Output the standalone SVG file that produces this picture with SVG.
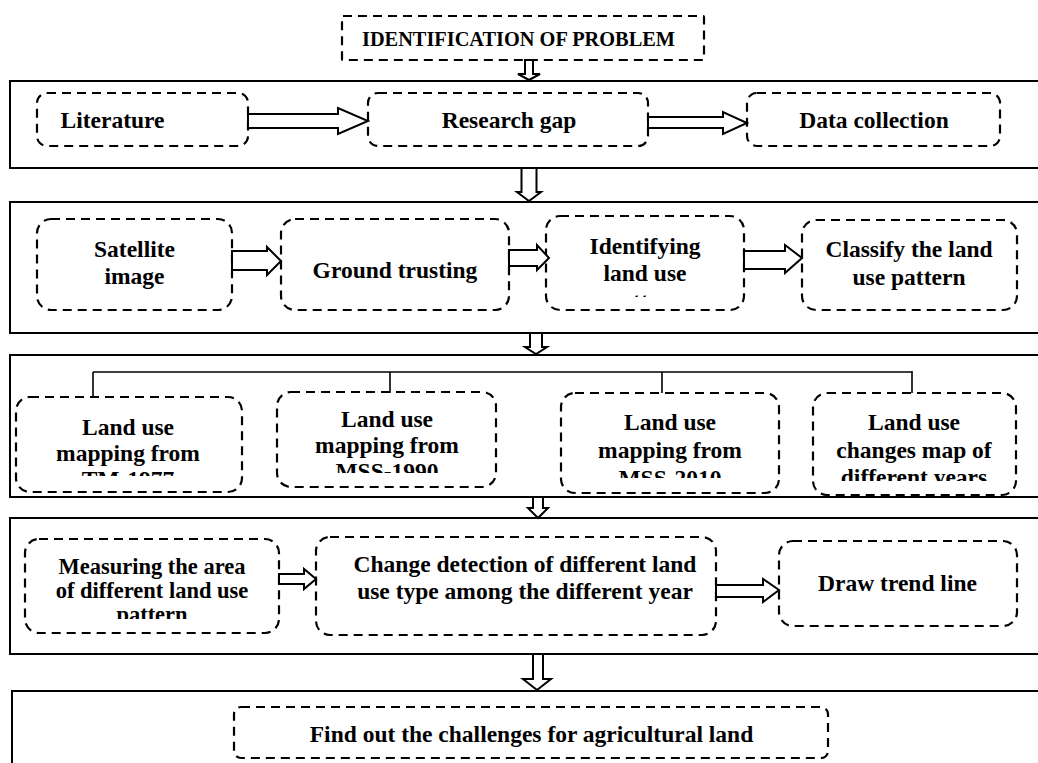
<svg xmlns="http://www.w3.org/2000/svg" width="1038" height="763" viewBox="0 0 1038 763">
<style>
.frame{fill:none;stroke:#000;stroke-width:2}
.db{fill:none;stroke:#000;stroke-width:2.2;stroke-dasharray:9 6}
.t{font-family:"Liberation Serif","Times New Roman",serif;font-weight:bold;font-size:23.5px;fill:#000;text-anchor:middle}
.ar{fill:#fff;stroke:#000;stroke-width:2;stroke-linejoin:miter}
.br{fill:none;stroke:#000;stroke-width:1.6}
</style>
<defs>
<clipPath id="c_id2"><rect x="546" y="216" width="198" height="81"/></clipPath>
<clipPath id="c_tm"><rect x="16" y="397" width="226" height="79"/></clipPath>
<clipPath id="c_m90"><rect x="277" y="392" width="219" height="81"/></clipPath>
<clipPath id="c_m10"><rect x="561" y="393" width="218" height="85"/></clipPath>
<clipPath id="c_chg"><rect x="813" y="393" width="203" height="88"/></clipPath>
<clipPath id="c_meas"><rect x="25" y="539" width="254" height="80"/></clipPath>
</defs>
<rect width="1038" height="763" fill="#fff"/>
<g id="frames">
<rect class="frame" x="10" y="81" width="1040" height="87"/>
<rect class="frame" x="10" y="202" width="1040" height="131"/>
<rect class="frame" x="10" y="355" width="1040" height="142"/>
<rect class="frame" x="10" y="518" width="1040" height="136"/>
<rect class="frame" x="12" y="691" width="1040" height="90"/>
</g>
<g id="n_ident">
<rect class="db" x="342" y="16" width="362" height="44" rx="1"/>
<text class="t" x="518.5" y="46" style="font-size:20px" textLength="313" lengthAdjust="spacingAndGlyphs">IDENTIFICATION OF PROBLEM</text>
</g>
<g id="n_lit">
<rect class="db" x="37" y="93" width="211" height="53" rx="10"/>
<text class="t" x="112.5" y="128">Literature</text>
</g>
<g id="n_gap">
<rect class="db" x="368" y="93" width="280" height="53" rx="10"/>
<text class="t" x="509" y="128">Research gap</text>
</g>
<g id="n_data">
<rect class="db" x="747" y="93" width="253" height="53" rx="10"/>
<text class="t" x="874" y="128">Data collection</text>
</g>
<g id="n_sat">
<rect class="db" x="37" y="219" width="195" height="91" rx="14"/>
<text class="t" x="134.5" y="257">Satellite</text>
<text class="t" x="134.5" y="284">image</text>
</g>
<g id="n_ground">
<rect class="db" x="281" y="219" width="228" height="91" rx="14"/>
<text class="t" x="395" y="278">Ground trusting</text>
</g>
<g id="n_identify">
<rect class="db" x="546" y="216" width="198" height="94" rx="14"/>
<g clip-path="url(#c_id2)">
<text class="t" x="645" y="254">Identifying</text>
<text class="t" x="645" y="281">land use</text>
<text class="t" x="645" y="309">pattern</text>
</g>
</g>
<g id="n_classify">
<rect class="db" x="802" y="220" width="215" height="90" rx="14"/>
<text class="t" x="909" y="257">Classify the land</text>
<text class="t" x="909" y="285">use pattern</text>
</g>
<g id="n_tm">
<rect class="db" x="16" y="397" width="226" height="95" rx="14"/>
<g clip-path="url(#c_tm)">
<text class="t" x="128" y="435">Land use</text>
<text class="t" x="128" y="461">mapping from</text>
<text class="t" x="128" y="487">TM-1977</text>
</g>
</g>
<g id="n_mss1990">
<rect class="db" x="277" y="392" width="219" height="95" rx="14"/>
<g clip-path="url(#c_m90)">
<text class="t" x="387" y="427">Land use</text>
<text class="t" x="387" y="453">mapping from</text>
<text class="t" x="387" y="479">MSS-1990</text>
</g>
</g>
<g id="n_mss2010">
<rect class="db" x="561" y="393" width="218" height="100" rx="14"/>
<g clip-path="url(#c_m10)">
<text class="t" x="670" y="430">Land use</text>
<text class="t" x="670" y="458">mapping from</text>
<text class="t" x="670" y="486">MSS-2010</text>
</g>
</g>
<g id="n_changes">
<rect class="db" x="813" y="393" width="203" height="102" rx="14"/>
<g clip-path="url(#c_chg)">
<text class="t" x="914" y="430">Land use</text>
<text class="t" x="914" y="458">changes map of</text>
<text class="t" x="914" y="485">different years</text>
</g>
</g>
<g id="n_measure">
<rect class="db" x="25" y="539" width="254" height="94" rx="14"/>
<g clip-path="url(#c_meas)">
<text class="t" x="152" y="574" style="font-size:22.5px">Measuring the area</text>
<text class="t" x="152" y="598" style="font-size:22.5px">of different land use</text>
<text class="t" x="152" y="622" style="font-size:22.5px">pattern</text>
</g>
</g>
<g id="n_detect">
<rect class="db" x="316" y="537" width="400" height="98" rx="14"/>
<text class="t" x="525" y="572">Change detection of different land</text>
<text class="t" x="525" y="599">use type among the different year</text>
</g>
<g id="n_trend">
<rect class="db" x="779" y="541" width="238" height="85" rx="14"/>
<text class="t" x="897.5" y="591">Draw trend line</text>
</g>
<g id="n_find">
<rect class="db" x="234" y="707" width="594" height="51" rx="7"/>
<text class="t" x="531.5" y="742">Find out the challenges for agricultural land</text>
</g>
<g id="connectors">
<path class="ar" d="M525,60 L533,60 L533,74 L540,74 L529,80 L518,74 L525,74 Z"/>
<path class="ar" d="M521.5,168 L536.5,168 L536.5,192 L541,192 L529,201 L517,192 L521.5,192 Z"/>
<path class="ar" d="M530,333 L542,333 L542,347 L547,347 L536,354 L525,347 L530,347 Z"/>
<path class="ar" d="M533,497 L543,497 L543,508 L548,508 L538,518 L528,508 L533,508 Z"/>
<path class="ar" d="M533,654 L543,654 L543,679 L551,679 L537,690 L523,679 L533,679 Z"/>
<path class="ar" d="M248,114 L338,114 L338,108 L368,121 L338,134 L338,128 L248,128 Z"/>
<path class="ar" d="M648,117 L723,117 L723,112 L747,123 L723,134 L723,128 L648,128 Z"/>
<path class="ar" d="M232,251 L267,251 L267,247 L281,261 L267,275 L267,270 L232,270 Z"/>
<path class="ar" d="M509,250 L537,250 L537,245 L549,258 L537,270 L537,266 L509,266 Z"/>
<path class="ar" d="M744,251 L785,251 L785,245 L802,258 L785,273 L785,269 L744,269 Z"/>
<path class="ar" d="M279,574 L304,574 L304,569 L316,579 L304,589 L304,584 L279,584 Z"/>
<path class="ar" d="M716,585 L763,585 L763,579 L779,590 L763,602 L763,597 L716,597 Z"/>
<path class="br" d="M93,372 L912,372 M93,372 L93,397 M390,372 L390,393 M662,372 L662,393 M912,371 L912,393"/>
</g>
</svg>
